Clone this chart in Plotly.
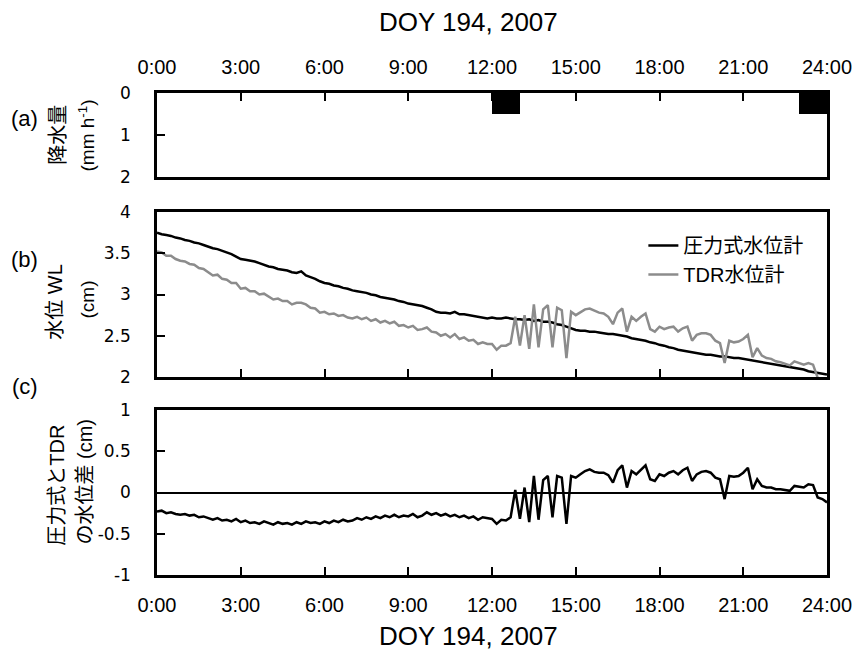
import plotly.graph_objects as go

# ---------------- data ----------------
hour_ticks = [0, 3, 6, 9, 12, 15, 18, 21, 24]
hour_labels = ["0:00", "3:00", "6:00", "9:00", "12:00", "15:00", "18:00", "21:00", "24:00"]

# (a) rainfall (mm/h), hourly bars centred on the hour interval
rain_time = [12.5, 23.5]
rain_mm = [0.5, 0.5]

# time axis for (b),(c): every 10 minutes, 0:00 .. 24:00
time_h = [i / 6 for i in range(145)]

# pressure-type water level gauge (cm)
wl_pressure = [
    3.75, 3.73, 3.72, 3.71, 3.69, 3.68,
    3.66, 3.65, 3.63, 3.62, 3.60, 3.58,
    3.56, 3.55, 3.53, 3.51, 3.49, 3.46,
    3.43, 3.42, 3.41, 3.40, 3.38, 3.36,
    3.34, 3.33, 3.31, 3.30, 3.29, 3.27,
    3.26, 3.28, 3.23, 3.21, 3.19, 3.16,
    3.14, 3.13, 3.11, 3.10, 3.08, 3.07,
    3.05, 3.04, 3.03, 3.02, 3.00, 2.99,
    2.97, 2.96, 2.95, 2.94, 2.92, 2.91,
    2.89, 2.88, 2.87, 2.86, 2.84, 2.82,
    2.79, 2.78, 2.78, 2.77, 2.79, 2.76,
    2.76, 2.75, 2.74, 2.73, 2.72, 2.71,
    2.72, 2.71, 2.71, 2.72, 2.71, 2.70,
    2.70, 2.69, 2.70, 2.68, 2.69, 2.67,
    2.67, 2.66, 2.64, 2.63, 2.61, 2.59,
    2.57, 2.56, 2.56, 2.55, 2.55, 2.54,
    2.53, 2.52, 2.52, 2.51, 2.50, 2.49,
    2.47, 2.46, 2.45, 2.44, 2.42, 2.41,
    2.39, 2.38, 2.36, 2.35, 2.33, 2.32,
    2.31, 2.30, 2.29, 2.28, 2.27, 2.27,
    2.26, 2.25, 2.25, 2.24, 2.23, 2.23,
    2.22, 2.21, 2.20, 2.19, 2.18, 2.17,
    2.16, 2.15, 2.14, 2.13, 2.12, 2.11,
    2.10, 2.09, 2.07, 2.06, 2.05, 2.04,
    2.03,
]

# TDR water level gauge (cm)
wl_tdr = [
    3.52, 3.51, 3.47, 3.47, 3.43, 3.41,
    3.40, 3.37, 3.36, 3.32, 3.31, 3.27,
    3.23, 3.24, 3.19, 3.18, 3.14, 3.14,
    3.07, 3.08, 3.04, 3.04, 3.00, 3.01,
    2.97, 2.94, 2.95, 2.92, 2.92, 2.88,
    2.90, 2.90, 2.88, 2.84, 2.83, 2.78,
    2.79, 2.76, 2.77, 2.74, 2.75, 2.72,
    2.71, 2.73, 2.70, 2.72, 2.68, 2.70,
    2.66, 2.68, 2.65, 2.67, 2.62, 2.63,
    2.60, 2.62, 2.57, 2.58, 2.60, 2.55,
    2.54, 2.50, 2.52, 2.48, 2.52, 2.46,
    2.48, 2.44, 2.45, 2.40, 2.42, 2.40,
    2.40, 2.33, 2.38, 2.38, 2.41, 2.73,
    2.38, 2.75, 2.34, 2.88, 2.36, 2.82,
    2.87, 2.36, 2.84, 2.81, 2.23, 2.79,
    2.75, 2.78, 2.82, 2.83, 2.80, 2.78,
    2.77, 2.73, 2.64, 2.78, 2.83, 2.55,
    2.73, 2.68, 2.73, 2.77, 2.58, 2.55,
    2.61, 2.58, 2.60, 2.61, 2.55, 2.59,
    2.61, 2.44, 2.51, 2.53, 2.53, 2.51,
    2.44, 2.41, 2.17, 2.44, 2.42, 2.43,
    2.46, 2.51, 2.24, 2.35, 2.26, 2.23,
    2.22, 2.19, 2.18, 2.16, 2.14, 2.19,
    2.17, 2.15, 2.17, 2.15, 1.99, 1.96,
    1.91,
]

# (c) difference TDR - pressure (cm)
wl_diff = [round(t - p, 3) for t, p in zip(wl_tdr, wl_pressure)]

# ---------------- figure ----------------
# page has an 8px body margin, so the figure is sized to fit inside the window
OFF = 8
W, H = 864 - OFF, 655 - OFF
PW, PH = 675, 482            # plot area size in pixels
L, T = 157 - OFF, 93 - OFF
R, B = W - L - PW, H - T - PH


def py(pix):
    # reference page pixel (from top) -> paper fraction
    return (T + PH - (pix - OFF)) / PH


def px(pix):
    # reference page pixel (from left) -> paper fraction
    return (pix - OFF - L) / PW


LAT = "Liberation Sans, Arial, Noto Sans CJK JP"
NARROW = "Liberation Sans Narrow, Liberation Sans, Arial"
CJK = "Liberation Sans, Noto Sans CJK JP"
YT = "DejaVu Sans, Verdana, sans-serif"

fig = go.Figure()

fig.add_trace(go.Bar(x=rain_time, y=rain_mm, width=1, marker=dict(color="black", line=dict(width=0)),
                     xaxis="x", yaxis="y", showlegend=False))

fig.add_trace(go.Scatter(x=time_h, y=wl_pressure, mode="lines", name="圧力式水位計",
                         line=dict(color="black", width=2.5), xaxis="x2", yaxis="y2"))
fig.add_trace(go.Scatter(x=time_h, y=wl_tdr, mode="lines", name="TDR水位計",
                         line=dict(color="#8c8c8c", width=2.5), xaxis="x2", yaxis="y2"))

fig.add_trace(go.Scatter(x=time_h, y=wl_diff, mode="lines", showlegend=False,
                         line=dict(color="black", width=2.5), xaxis="x3", yaxis="y3"))

frame = dict(showline=True, linecolor="black", linewidth=2.5, mirror=True,
             showgrid=False, zeroline=False, ticks="inside", ticklen=8, tickwidth=2,
             tickcolor="black")

xcommon = dict(range=[0, 24], tickvals=hour_ticks, **frame)
ytick_font = dict(family=YT, size=17, color="black")
xtick_font = dict(family=NARROW, size=20, color="black")

fig.update_layout(
    width=W, height=H, autosize=False,
    margin=dict(l=L, r=R, t=T, b=B),
    paper_bgcolor="white", plot_bgcolor="white",
    bargap=0,
    xaxis=dict(domain=[0, 1], anchor="y", side="top", ticktext=hour_labels,
               tickfont=xtick_font, ticklabelstandoff=8, **xcommon),
    yaxis=dict(domain=[py(177), 1], anchor="x", range=[2, 0], tickvals=[0, 1, 2],
               ticktext=["0", "1", "2"], tickfont=ytick_font, ticklabelstandoff=20, **frame),
    xaxis2=dict(domain=[0, 1], anchor="y2", showticklabels=False, **xcommon),
    yaxis2=dict(domain=[py(377), py(212)], anchor="x2", range=[2, 4], tickvals=[2, 2.5, 3, 3.5, 4],
                ticktext=["2", "2.5", "3", "3.5", "4"], tickfont=ytick_font,
                ticklabelstandoff=20, **frame),
    xaxis3=dict(domain=[0, 1], anchor="y3", ticktext=hour_labels,
                tickfont=xtick_font, ticklabelstandoff=10, **xcommon),
    yaxis3=dict(domain=[0, py(410)], anchor="x3", range=[-1, 1], tickvals=[-1, -0.5, 0, 0.5, 1],
                ticktext=["-1", "-0.5", "0", "0.5", "1"], tickfont=ytick_font,
                ticklabelstandoff=20, **frame),
    legend=dict(x=px(647), y=py(226), xanchor="left", yanchor="top", bgcolor="rgba(0,0,0,0)",
                font=dict(family=CJK, size=20, color="black"), tracegroupgap=0),
    showlegend=True,
)
fig.layout.yaxis3.update(zeroline=True, zerolinecolor="black", zerolinewidth=2)

ann = []
ann.append(dict(text="DOY 194, 2007", x=px(471), y=py(22), font=dict(family=NARROW, size=26, color="black")))
ann.append(dict(text="DOY 194, 2007", x=px(471), y=py(636), font=dict(family=NARROW, size=26, color="black")))
ann.append(dict(text="(a)", x=px(24), y=py(118), font=dict(family=LAT, size=22, color="black")))
ann.append(dict(text="(b)", x=px(24), y=py(259), font=dict(family=LAT, size=22, color="black")))
ann.append(dict(text="(c)", x=px(24), y=py(386), font=dict(family=LAT, size=22, color="black")))
ann.append(dict(text="降水量", x=px(57), y=py(135), textangle=-90, font=dict(family=CJK, size=20, color="black")))
ann.append(dict(text="(mm h<sup>-1</sup>)", x=px(86), y=py(136), textangle=-90, font=dict(family=CJK, size=19, color="black")))
ann.append(dict(text="水位 WL", x=px(54), y=py(302), textangle=-90, font=dict(family=CJK, size=20, color="black")))
ann.append(dict(text="(cm)", x=px(86), y=py(300), textangle=-90, font=dict(family=CJK, size=19, color="black")))
ann.append(dict(text="圧力式とTDR", x=px(56), y=py(485), textangle=-90, font=dict(family=CJK, size=20, color="black")))
ann.append(dict(text="の水位差 (cm)", x=px(84), y=py(482), textangle=-90, font=dict(family=CJK, size=20, color="black")))

fig.update_layout(annotations=[dict(xref="paper", yref="paper", showarrow=False,
                                    xanchor="center", yanchor="middle", **a) for a in ann])

fig.write_html("out.html")
